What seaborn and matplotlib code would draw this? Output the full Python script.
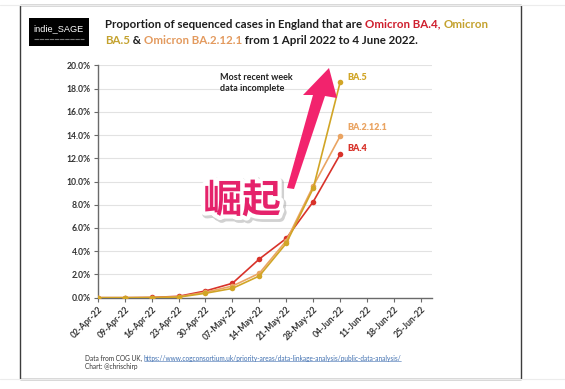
import numpy as np
import pandas as pd
import seaborn as sns
import matplotlib.pyplot as plt
import matplotlib.dates as mdates
import matplotlib.patheffects as pe
from matplotlib.patches import Rectangle, Polygon
from matplotlib.lines import Line2D
from matplotlib.ticker import FuncFormatter

# Weekly data (proportion of sequenced cases)
weeks = ["2022-04-02", "2022-04-09", "2022-04-16", "2022-04-23", "2022-04-30",
         "2022-05-07", "2022-05-14", "2022-05-21", "2022-05-28", "2022-06-04"]
ba4 = [0.0, 0.0, 0.0002, 0.0012, 0.0058, 0.0124, 0.0333, 0.0510, 0.0826, 0.1233]
ba2121 = [0.0, 0.0, 0.0001, 0.0008, 0.0047, 0.0100, 0.0210, 0.0490, 0.0960, 0.1390]
ba5 = [0.0, 0.0, 0.0001, 0.0005, 0.0038, 0.0080, 0.0187, 0.0468, 0.0941, 0.1855]
variants = ["BA.4", "BA.2.12.1", "BA.5"]
colors = {"BA.4": "#d8322a", "BA.2.12.1": "#eaa462", "BA.5": "#d1a526"}
tick_dates = pd.date_range("2022-04-02", "2022-06-25", freq="7D")

W, H = 565, 389


def px(x, y):
    # pixel position (y from top) -> figure fraction
    return x / W, 1 - y / H


def multicolor_text(fig, x, y, parts, **kw):
    renderer = fig.canvas.get_renderer()
    for s, c in parts:
        t = fig.text(x, y, s, color=c, transform=None, **kw)
        bb = t.get_window_extent(renderer)
        x = bb.x1


df = pd.DataFrame({
    "date": pd.to_datetime(weeks * 3),
    "share": ba4 + ba2121 + ba5,
    "variant": ["BA.4"] * len(weeks) + ["BA.2.12.1"] * len(weeks) + ["BA.5"] * len(weeks),
})

sns.set_theme(style="white")
plt.rcParams["font.family"] = ["Lato", "DejaVu Sans"]

fig = plt.figure(figsize=(5.65, 3.89), dpi=100)
fig.patch.set_facecolor("white")

# slide frame
fig.add_artist(Line2D([px(0, 5)[0], 1], [px(0, 5)[1]] * 2, color="#ececec", lw=0.8))
fig.add_artist(Line2D([0, 1], [px(0, 379)[1]] * 2, color="#ececec", lw=0.8))
x0, y0 = px(20, 379)
x1, y1 = px(521, 5)
fig.add_artist(Rectangle((x0, y0), x1 - x0, y1 - y0, fill=True, facecolor="white",
                         edgecolor="#3c3c3c", lw=1.0, transform=fig.transFigure, zorder=0))

ax = fig.add_axes([97.7 / W, 1 - 297.7 / H, (431.7 - 97.7) / W, (297.7 - 65.3) / H])
ax.set_facecolor("none")

sns.lineplot(data=df, x="date", y="share", hue="variant",
             hue_order=["BA.4", "BA.2.12.1", "BA.5"], palette=colors,
             marker="o", markersize=4, markeredgewidth=0, linewidth=1.2,
             legend=False, ax=ax, zorder=3)

ax.set_ylim(0, 0.20)
ax.set_yticks(np.arange(0, 0.201, 0.02))
ax.yaxis.set_major_formatter(FuncFormatter(lambda v, _: f"{v * 100:.1f}%"))
ax.set_xlim(pd.Timestamp("2022-04-02"), pd.Timestamp("2022-06-27 19:00"))
ax.set_xticks(tick_dates)
ax.xaxis.set_major_formatter(mdates.DateFormatter("%d-%b-%y"))
ax.set_xlabel("")
ax.set_ylabel("")
ax.grid(axis="y", color="#e2e2e2", lw=0.8)
ax.set_axisbelow(True)
for side in ["top", "right"]:
    ax.spines[side].set_visible(False)
for side in ["left", "bottom"]:
    ax.spines[side].set_color("#6a6a6a")
    ax.spines[side].set_linewidth(1.0)
ax.tick_params(axis="both", which="major", length=3, width=0.8, color="#6a6a6a",
               labelsize=6.2, labelcolor="#333333", pad=2, bottom=True, left=True)
for lab in ax.get_yticklabels():
    lab.set_fontweight("bold")
for lab in ax.get_xticklabels():
    lab.set_fontweight("bold")
    lab.set_rotation(45)
    lab.set_ha("right")
    lab.set_rotation_mode("anchor")

# end labels
ends = {"BA.4": ba4[-1], "BA.2.12.1": ba2121[-1], "BA.5": ba5[-1]}
offsets = {"BA.4": 4, "BA.2.12.1": 6, "BA.5": 3}
for v in variants:
    ax.annotate(v, (pd.Timestamp(weeks[-1]), ends[v]), xytext=(5, offsets[v]),
                textcoords="offset points", color=colors[v], fontsize=6.5,
                fontweight="heavy", va="center", ha="left")

ax.text(0.366, 0.965, "Most recent week\ndata incomplete", transform=ax.transAxes,
        fontsize=6.5, fontweight="bold", color="#222222", va="top", ha="left",
        linespacing=1.25)

# header logo
lx0, ly0 = px(29, 46)
lx1, ly1 = px(89, 18)
fig.add_artist(Rectangle((lx0, ly0), lx1 - lx0, ly1 - ly0, facecolor="black",
                         edgecolor="none", transform=fig.transFigure))
fig.text(*px(59, 29), "indie_SAGE", color="white", fontsize=6.6, ha="center",
         va="center", family=["Liberation Sans", "DejaVu Sans"])
fig.add_artist(Line2D([px(34, 0)[0], px(84, 0)[0]], [px(0, 39)[1]] * 2,
                      color="#777777", lw=0.8, ls=(0, (4, 0.6))))

# title
title_kw = dict(fontsize=8.3, fontweight="bold", va="center", ha="left")
red, gold, orange, dark = "#cf1f2e", "#c4a22e", "#e39a5e", "#1e1e1e"
multicolor_text(fig, 105, H - 24, [
    ("Proportion of sequenced cases in England that are ", dark),
    ("Omicron BA.4, ", red), ("Omicron", gold)], **title_kw)
multicolor_text(fig, 105, H - 41, [
    ("BA.5", gold), (" & ", dark), ("Omicron BA.2.12.1", orange),
    (" from 1 April 2022 to 4 June 2022.", dark)], **title_kw)

# footer
foot_kw = dict(fontsize=4.7, va="center", ha="left")
renderer = fig.canvas.get_renderer()
t = fig.text(85, H - 358, "Data from COG UK, ", color="#333333", transform=None, **foot_kw)
url = fig.text(t.get_window_extent(renderer).x1, H - 358,
               "https://www.cogconsortium.uk/priority-areas/data-linkage-analysis/public-data-analysis/",
               color="#3f6fb0", transform=None, **foot_kw)
ub = url.get_window_extent(renderer)
fig.add_artist(Line2D([ub.x0 / W, ub.x1 / W], [(ub.y0 + 0.3) / H] * 2, color="#3f6fb0", lw=0.4))
fig.text(85, H - 366, "Chart: @chrischirp", color="#333333", transform=None, **foot_kw)

# pink arrow sticker
pink = "#f2236d"
arrow_px = [(287, 188), (313, 95), (303, 95), (329, 68), (337, 98), (325, 96), (294, 189)]
fig.add_artist(Polygon([px(a, b) for a, b in arrow_px], closed=True, facecolor=pink,
                       edgecolor="none", transform=fig.transFigure, zorder=5))

# sticker text
fig.text(*px(242, 201), "崛起", fontsize=28, fontweight="heavy", color="#e5226b",
         ha="center", va="center", family=["Noto Sans CJK SC", "DejaVu Sans"], zorder=6,
         path_effects=[pe.Stroke(linewidth=7, foreground="#9a9a9a", alpha=0.45, offset=(1.2, -1.5)),
                       pe.Stroke(linewidth=6, foreground="white"), pe.Normal()])

fig.savefig("out.png", dpi=100)
